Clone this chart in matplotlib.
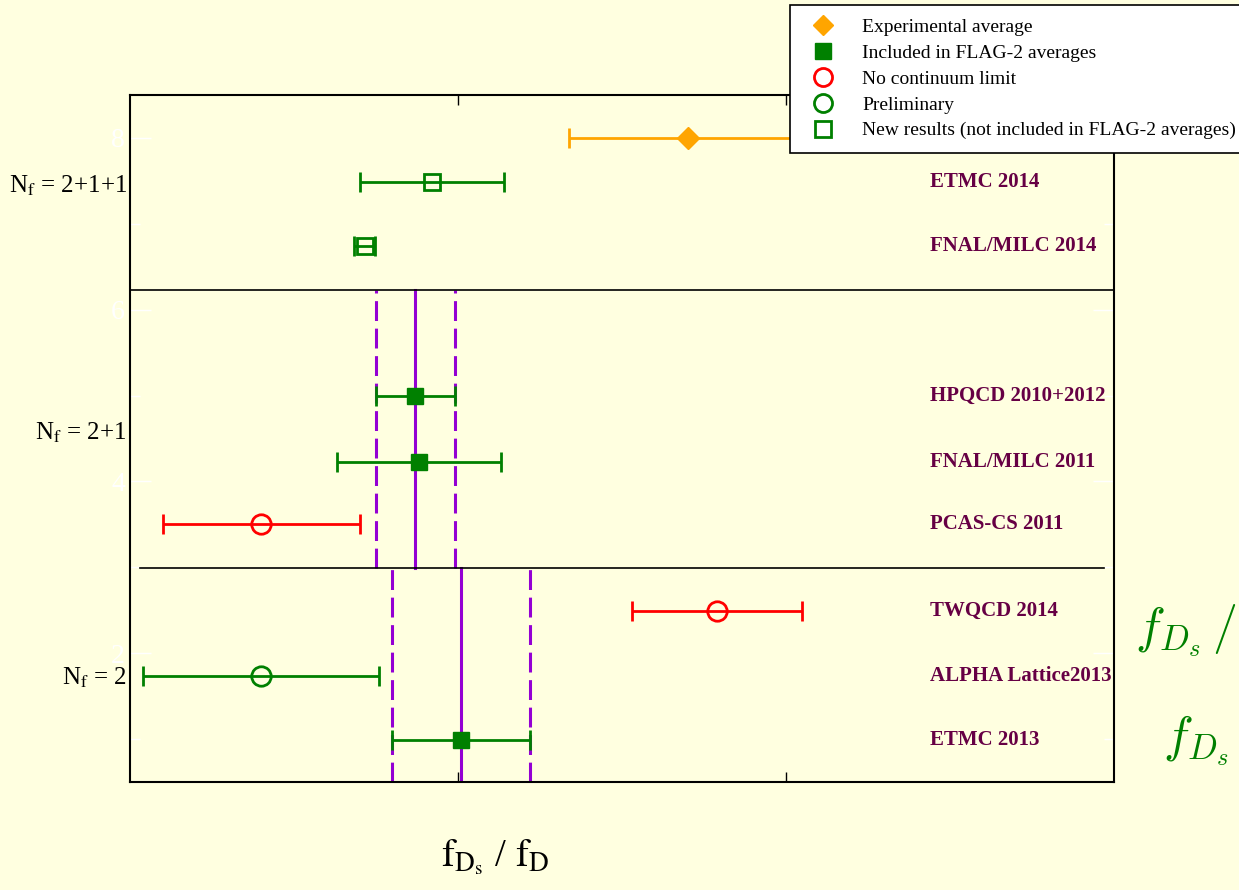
import matplotlib.pyplot as plt
from matplotlib.lines import Line2D

# couleurs
fond = '#FFFFE0'
vert = '#008000'
rouge = '#FF0000'
orange = '#FFA500'
violet = '#9400D3'
bordeaux = '#660044'

plt.rcParams['font.family'] = ['Liberation Serif', 'DejaVu Serif']
plt.rcParams['mathtext.fontset'] = 'stix'

#------------- valeurs fDs/fD --------------------------------------------
noms = ['ETMC 2014', 'FNAL/MILC 2014',
        'HPQCD 2010+2012', 'FNAL/MILC 2011', 'PCAS-CS 2011',
        'TWQCD 2014', 'ALPHA Lattice2013', 'ETMC 2013']
valeurs = [1.192, 1.1716, 1.187, 1.188, 1.140, 1.279, 1.140, 1.201]
erreurs = [0.022, 0.0032, 0.012, 0.025, 0.030, 0.026, 0.036, 0.021]
positions = [7.49, 6.74, 5.0, 4.23, 3.5, 2.49, 1.74, 0.99]
# 'carre' = inclus, 'ouvert' = nouveau, 'rouge' = pas de limite continue, 'prelim' = préliminaire
types = ['ouvert', 'ouvert', 'carre', 'carre', 'rouge', 'rouge', 'prelim', 'carre']

exp_val = 1.270
exp_err = 0.036
exp_pos = 8.0

# moyennes FLAG (valeur, erreur, ymin, ymax)
moy_21 = (1.187, 0.012, 2.99, 6.23)
moy_2 = (1.201, 0.021, 0.5, 2.99)

separations = [6.23, 2.99]
groupes = ['N$_\\mathrm{f}$ = 2+1+1', 'N$_\\mathrm{f}$ = 2+1', 'N$_\\mathrm{f}$ = 2']
groupes_pos = [7.44, 4.57, 1.71]

styles = {
    'carre': dict(marker='s', mfc=vert, mec=vert, color=vert, ms=12),
    'ouvert': dict(marker='s', mfc='none', mec=vert, color=vert, ms=12, mew=2),
    'rouge': dict(marker='o', mfc='none', mec=rouge, color=rouge, ms=14, mew=2),
    'prelim': dict(marker='o', mfc='none', mec=vert, color=vert, ms=14, mew=2),
}

fig = plt.figure(figsize=(12.39, 8.90), dpi=100, facecolor=fond)
ax = fig.add_axes([0.1049, 0.1213, 0.7942, 0.7719], facecolor=fond)

#------------- moyennes ------------------------------------------------
for v, e, y0, y1 in [moy_21, moy_2]:
    ax.plot([v, v], [y0, y1], color=violet, lw=2.2)
    for xx in (v - e, v + e):
        ax.plot([xx, xx], [y0, y1], color=violet, lw=2.2, dashes=(6.5, 2.5))

#------------- points --------------------------------------------------
for v, e, y, t in zip(valeurs, erreurs, positions, types):
    st = styles[t]
    ax.errorbar(v, y, xerr=e, fmt='none', ecolor=st['color'], elinewidth=2,
                capsize=7, capthick=2)
    ax.plot(v, y, ls='none', marker=st['marker'], mfc=st['mfc'], mec=st['mec'],
            ms=st['ms'], mew=st.get('mew', 1))

ax.errorbar(exp_val, exp_pos, xerr=exp_err, fmt='none', ecolor=orange,
            elinewidth=2, capsize=7, capthick=2)
ax.plot(exp_val, exp_pos, ls='none', marker='D', color=orange, ms=11)

ax.axhline(separations[0], color='black', lw=1.2)
ax.axhline(separations[1], xmin=0.01, xmax=0.99, color='black', lw=1.2)

#------------- textes ---------------------------------------------------
for n, y in zip(noms, positions):
    ax.text(1.3439, y, n, color=bordeaux, fontsize=15, fontweight='bold',
            va='center', ha='left')

for g, y in zip(groupes, groupes_pos):
    ax.text(1.0991, y, g, fontsize=18, ha='right', va='center', clip_on=False)

fig.text(1135 / 1239, 1 - 630 / 890, r'$f_{D_s}\,/\,f_D$', color=vert,
         fontsize=36, math_fontfamily='cm', va='center', ha='left')
fig.text(1163 / 1239, 1 - 740 / 890, r'$f_{D_s}$', color=vert,
         fontsize=36, math_fontfamily='cm', va='center', ha='left')

fig.text(495 / 1239, 1 - 857 / 890,
         r'$\mathrm{f}_{\mathrm{D}_\mathrm{s}}$ / $\mathrm{f}_\mathrm{D}$',
         fontsize=28, ha='center', va='center')

#------------- axes -----------------------------------------------------
ax.set_xlim(1.10, 1.40)
ax.set_ylim(0.5, 8.5)
ax.set_xticks([1.2, 1.3])
ax.tick_params(axis='x', direction='in', length=7, width=1, top=True,
               labelbottom=False, color='black')
ax.set_yticks([2, 4, 6, 8])
ax.set_yticks([1, 3, 5, 7], minor=True)
ax.tick_params(axis='y', which='major', direction='in', length=15, width=1,
               right=True, color='white', labelcolor='white', labelsize=20)
ax.tick_params(axis='y', which='minor', direction='in', length=7, width=1,
               right=True, color='white')
for sp in ax.spines.values():
    sp.set_linewidth(1.5)

#------------- légende --------------------------------------------------
poignees = [
    Line2D([], [], ls='none', marker='D', color=orange, ms=10),
    Line2D([], [], ls='none', marker='s', color=vert, ms=11),
    Line2D([], [], ls='none', marker='o', mfc='none', mec=rouge, ms=13, mew=2),
    Line2D([], [], ls='none', marker='o', mfc='none', mec=vert, ms=13, mew=2),
    Line2D([], [], ls='none', marker='s', mfc='none', mec=vert, ms=11, mew=2),
]
textes = ['Experimental average', 'Included in FLAG-2 averages',
          'No continuum limit', 'Preliminary',
          'New results (not included in FLAG-2 averages)']
leg = fig.legend(poignees, textes, loc='upper left',
                 bbox_to_anchor=(790 / 1239, 1 - 5 / 890), fontsize=14,
                 frameon=True, fancybox=False, edgecolor='black',
                 facecolor='white', framealpha=1, borderaxespad=0,
                 labelspacing=0.42, handletextpad=1.0, borderpad=0.7)
leg.get_frame().set_linewidth(1.2)

plt.savefig('out.png', dpi=100, facecolor=fond)
